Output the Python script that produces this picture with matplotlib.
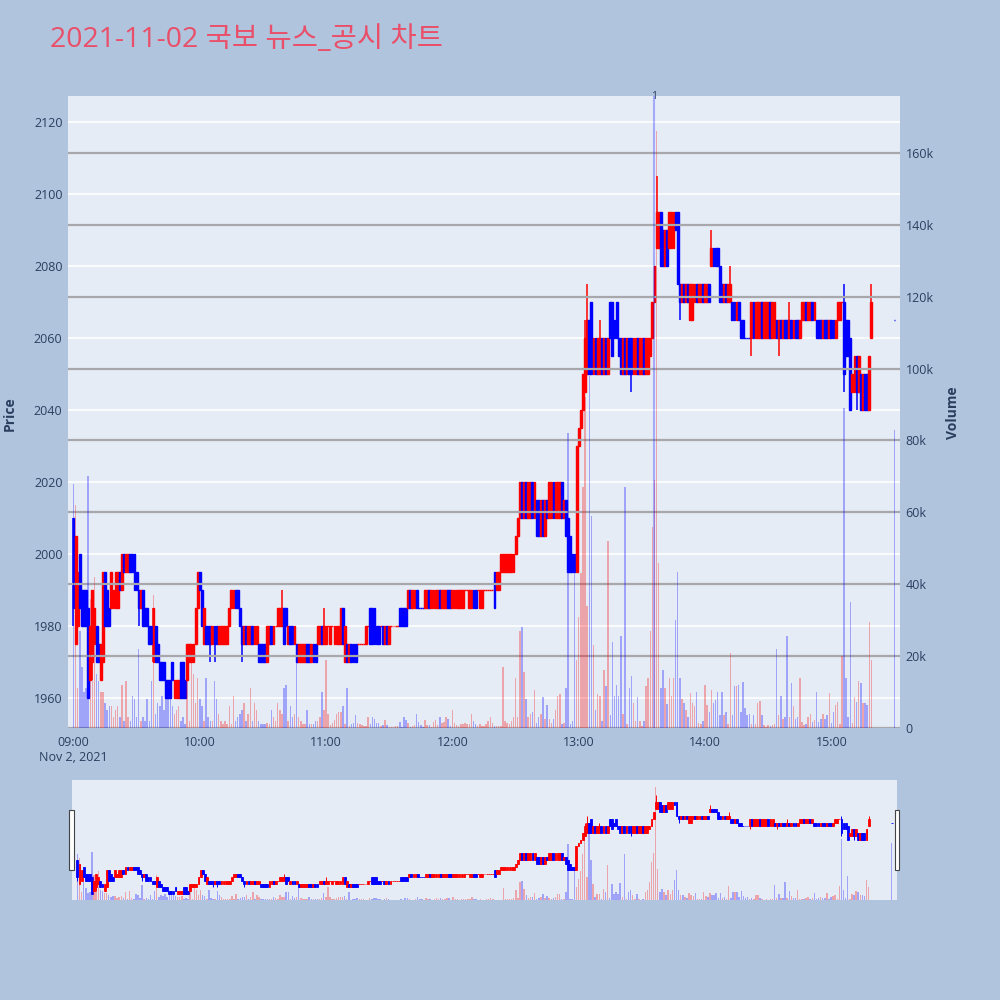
import matplotlib.pyplot as plt
from matplotlib.patches import Rectangle

plt.rcParams['font.family'] = ['Open Sans', 'Noto Sans CJK KR', 'DejaVu Sans']

title = '2021-11-02 국보 뉴스_공시 차트'
tick_minutes = [0, 60, 120, 180, 240, 300, 360]
tick_labels = ['09:00\nNov 2, 2021', '10:00', '11:00', '12:00', '13:00', '14:00', '15:00']
price_ticks = [1960, 1980, 2000, 2020, 2040, 2060, 2080, 2100, 2120]
vol_ticks = [0, 20, 40, 60, 80, 100, 120, 140, 160]

# one candle per minute from 09:00 to 15:19
opens = [
    2010, 1975, 1980, 2000, 1990, 1990, 1990, 1985, 1965, 1970,
    1975, 1980, 1975, 1965, 1970, 1995, 1990, 1985, 1985, 1985,
    1985, 1985, 1995, 1990, 2000, 1995, 1995, 2000, 2000, 2000,
    1995, 1990, 1985, 1990, 1985, 1985, 1980, 1980, 1970, 1980,
    1975, 1970, 1970, 1970, 1965, 1965, 1965, 1970, 1960, 1960,
    1960, 1970, 1970, 1965, 1965, 1970, 1970, 1970, 1975, 1985,
    1995, 1990, 1975, 1980, 1980, 1980, 1975, 1980, 1980, 1975,
    1975, 1975, 1975, 1975, 1980, 1985, 1985, 1990, 1990, 1985,
    1980, 1975, 1980, 1975, 1975, 1980, 1975, 1975, 1975, 1975,
    1975, 1975, 1970, 1975, 1980, 1975, 1980, 1980, 1980, 1980,
    1985, 1985, 1975, 1980, 1980, 1975, 1975, 1970, 1970, 1970,
    1970, 1975, 1975, 1970, 1975, 1975, 1975, 1975, 1980, 1975,
    1975, 1980, 1975, 1980, 1975, 1975, 1975, 1975, 1985, 1970,
    1975, 1970, 1975, 1975, 1975, 1975, 1975, 1975, 1975, 1975,
    1980, 1985, 1985, 1985, 1980, 1980, 1980, 1980, 1975, 1980,
    1975, 1980, 1980, 1980, 1980, 1985, 1985, 1985, 1985, 1985,
    1990, 1985, 1985, 1990, 1985, 1985, 1985, 1985, 1985, 1990,
    1985, 1985, 1985, 1985, 1990, 1985, 1985, 1985, 1990, 1990,
    1985, 1985, 1985, 1985, 1985, 1985, 1990, 1990, 1985, 1985,
    1990, 1990, 1990, 1985, 1985, 1990, 1990, 1990, 1990, 1990,
    1995, 1990, 1990, 1995, 1995, 1995, 1995, 1995, 1995, 1995,
    2000, 2005, 2010, 2020, 2010, 2020, 2010, 2010, 2020, 2010,
    2015, 2015, 2005, 2015, 2005, 2015, 2010, 2010, 2020, 2010,
    2010, 2010, 2020, 2010, 2015, 2010, 2005, 2000, 2000, 1995,
    2030, 2035, 2040, 2045, 2050, 2065, 2070, 2050, 2060, 2050,
    2050, 2060, 2050, 2060, 2050, 2070, 2070, 2065, 2070, 2060,
    2060, 2050, 2060, 2050, 2060, 2060, 2050, 2050, 2060, 2050,
    2050, 2060, 2050, 2050, 2055, 2060, 2070, 2085, 2085, 2095,
    2090, 2080, 2090, 2085, 2085, 2085, 2095, 2095, 2075, 2070,
    2075, 2070, 2075, 2065, 2065, 2070, 2075, 2070, 2070, 2075,
    2070, 2070, 2075, 2080, 2085, 2085, 2085, 2080, 2075, 2070,
    2075, 2070, 2070, 2070, 2070, 2065, 2070, 2065, 2065, 2060,
    2060, 2060, 2060, 2070, 2060, 2060, 2060, 2070, 2060, 2060,
    2060, 2070, 2060, 2060, 2065, 2060, 2065, 2060, 2065, 2065,
    2060, 2065, 2060, 2065, 2065, 2060, 2065, 2065, 2070, 2065,
    2065, 2070, 2065, 2065, 2065, 2065, 2060, 2065, 2065, 2060,
    2065, 2065, 2060, 2065, 2065, 2070, 2070, 2065, 2065, 2060,
    2045, 2045, 2055, 2045, 2050, 2040, 2050, 2050, 2040, 2060,
]
closes = [
    1985, 2005, 1995, 1985, 1980, 1980, 1980, 1960, 1980, 1990,
    1985, 1970, 1970, 1975, 1995, 1980, 1980, 1980, 1995, 1990,
    1995, 1995, 1990, 2000, 1995, 2000, 2000, 1995, 1995, 1990,
    1990, 1985, 1990, 1980, 1980, 1980, 1975, 1975, 1985, 1970,
    1970, 1965, 1965, 1965, 1960, 1960, 1960, 1965, 1965, 1965,
    1965, 1960, 1960, 1960, 1975, 1975, 1975, 1975, 1985, 1995,
    1990, 1980, 1985, 1975, 1975, 1975, 1980, 1975, 1975, 1980,
    1980, 1980, 1980, 1980, 1985, 1990, 1990, 1985, 1985, 1980,
    1975, 1980, 1975, 1980, 1980, 1975, 1980, 1980, 1970, 1970,
    1970, 1970, 1980, 1980, 1975, 1980, 1980, 1985, 1985, 1985,
    1975, 1980, 1980, 1975, 1975, 1980, 1970, 1975, 1975, 1975,
    1975, 1970, 1970, 1975, 1970, 1970, 1980, 1980, 1975, 1980,
    1980, 1980, 1980, 1980, 1980, 1980, 1980, 1985, 1975, 1980,
    1970, 1975, 1970, 1970, 1970, 1975, 1975, 1975, 1975, 1980,
    1980, 1975, 1975, 1975, 1975, 1975, 1980, 1975, 1980, 1975,
    1980, 1980, 1980, 1980, 1980, 1980, 1980, 1980, 1980, 1990,
    1985, 1990, 1990, 1985, 1985, 1985, 1985, 1990, 1990, 1985,
    1990, 1990, 1990, 1990, 1985, 1990, 1990, 1990, 1985, 1985,
    1990, 1990, 1990, 1990, 1990, 1990, 1990, 1990, 1990, 1990,
    1985, 1985, 1990, 1990, 1990, 1990, 1990, 1990, 1990, 1990,
    1985, 1995, 1995, 2000, 2000, 2000, 2000, 2000, 2000, 2000,
    2005, 2010, 2020, 2010, 2020, 2010, 2020, 2020, 2010, 2020,
    2005, 2005, 2015, 2005, 2015, 2010, 2020, 2020, 2010, 2020,
    2020, 2020, 2010, 2015, 2005, 1995, 1995, 1995, 1995, 2030,
    2035, 2040, 2050, 2060, 2065, 2050, 2050, 2060, 2050, 2060,
    2060, 2050, 2060, 2050, 2060, 2060, 2055, 2060, 2060, 2055,
    2050, 2060, 2050, 2060, 2050, 2050, 2060, 2060, 2050, 2060,
    2060, 2050, 2060, 2060, 2060, 2070, 2080, 2095, 2095, 2080,
    2080, 2090, 2080, 2095, 2095, 2095, 2090, 2075, 2070, 2075,
    2070, 2075, 2070, 2075, 2075, 2075, 2070, 2075, 2075, 2070,
    2075, 2075, 2070, 2085, 2080, 2080, 2080, 2070, 2070, 2075,
    2070, 2075, 2075, 2065, 2065, 2070, 2065, 2060, 2060, 2060,
    2060, 2060, 2070, 2060, 2070, 2070, 2070, 2060, 2070, 2070,
    2070, 2060, 2070, 2070, 2060, 2065, 2060, 2065, 2060, 2060,
    2065, 2060, 2065, 2060, 2060, 2065, 2070, 2070, 2065, 2070,
    2070, 2065, 2070, 2060, 2060, 2060, 2065, 2060, 2060, 2065,
    2060, 2060, 2065, 2070, 2070, 2070, 2050, 2055, 2055, 2040,
    2050, 2055, 2045, 2055, 2040, 2050, 2040, 2040, 2055, 2070,
]
wick_high = {99: 1990, 119: 1985, 243: 2065, 244: 2075, 250: 2065, 277: 2105,
             303: 2090, 312: 2080, 340: 2070, 366: 2075, 379: 2075}
wick_low = {0: 1980, 9: 1965, 31: 1980, 65: 1970, 67: 1970, 80: 1970, 265: 2045,
            288: 2065, 322: 2055, 335: 2055, 366: 2045, 372: 2040}

# volume per minute, thousands
volumes = [
    68, 62, 11, 27, 17, 10, 11, 70, 36, 20,
    42, 15, 13, 10, 10, 7, 5, 6, 6, 3,
    5, 6, 3, 12, 2, 13, 3, 2, 9, 8,
    3, 22, 2, 3, 2, 8, 2, 13, 37, 4,
    7, 6, 9, 5, 12, 11, 10, 6, 4, 5,
    6, 2, 3, 1, 15, 2, 19, 15, 7, 14,
    8, 6, 2, 14, 3, 2, 2, 13, 8, 4,
    2, 1, 2, 1, 6, 1, 9, 2, 3, 4,
    5, 7, 2, 4, 11, 2, 7, 5, 2, 1,
    1, 1, 1.5, 1, 5, 3, 2, 7, 5, 4,
    11, 12, 2, 6, 3, 4, 19, 3, 2, 1,
    1, 5, 1, 1, 1, 2, 2, 3, 10, 5,
    19, 4, 0.8, 1.3, 2.2, 4, 4.5, 4.5, 6, 1,
    11, 0.5, 1, 1.3, 3.6, 1.3, 1, 0.8, 0.5, 0.5,
    3, 1, 3, 2.6, 1.3, 1.3, 0.5, 0.8, 2.2, 0.8,
    0.3, 0.3, 0.3, 0.5, 0.5, 1.8, 0.3, 3, 2.2, 1.3,
    0.3, 0.5, 0.8, 4, 1.8, 0.8, 0.3, 2.2, 0.8, 0.8,
    0.3, 1.8, 2.2, 0.8, 3, 1.3, 1.8, 3, 2.6, 0.5,
    5, 1.3, 0.8, 0.5, 1, 1, 1.5, 1, 1, 4,
    2, 1, 0.5, 1, 0.5, 0.5, 1, 2, 3, 1.5,
    0.5, 0.5, 0.5, 0.5, 17, 2, 1.5, 1, 2, 3,
    14, 3, 27, 28, 15.7, 8, 3, 4, 4.5, 10.6,
    1.5, 3, 4, 8.7, 2.5, 6.4, 2.5, 1.5, 2.5, 5,
    9, 9.5, 1, 1.5, 11, 82, 1, 2, 47, 19,
    31, 43, 67, 92, 34, 98, 59, 23, 5, 9.5,
    9, 2, 16, 11.7, 52, 3.6, 24, 9, 12, 9,
    25.6, 4, 67, 1, 11, 14.5, 7, 2, 8.5, 2,
    0.5, 2, 11.7, 14, 27, 56, 69, 166, 46, 11,
    16, 11, 6.6, 14, 9, 14, 30, 43.5, 14, 8,
    7, 5, 3, 9.7, 7, 6, 10, 1.5, 1, 2,
    12, 6.4, 4.5, 10.6, 7, 7.8, 10, 3.6, 10, 3.6,
    4.5, 1, 21, 3.6, 11.6, 11.6, 12, 4.5, 12.7, 5.5,
    3.6, 4, 1.2, 3.6, 1.2, 7, 7.5, 3.6, 0.8, 0.3,
    0.8, 0.5, 0.8, 1, 22, 3.6, 9, 2.6, 3, 25.7,
    3, 12.5, 6, 2.6, 3, 14, 1.7, 0.8, 1.2, 3,
    4, 1.7, 2.2, 10, 1.7, 2.6, 4, 2.6, 3.6, 9.6,
    1.3, 4.5, 6.4, 7.3, 1, 20, 89, 14, 3, 35,
    1.3, 8.7, 7.3, 13, 12.4, 7, 7, 6.4, 29.6, 19,
]

# closing auction at 15:30
auction_minute = 390
auction_price = 2065
auction_volume = 83

news_minute = 275.7
news_label = '1'

# build candles
minutes = list(range(len(closes))) + [auction_minute]
all_open = opens + [auction_price]
all_close = closes + [auction_price]
all_vol = [v * 1000 for v in volumes + [auction_volume]]
highs, lows, colors = [], [], []
last_dir = 'red'
prev_close = all_open[0]
for i, (o, c) in enumerate(zip(all_open, all_close)):
    highs.append(max(o, c, wick_high.get(i, o)))
    lows.append(min(o, c, wick_low.get(i, o)))
    if c > o:
        last_dir = 'red'
    elif c < o:
        last_dir = 'blue'
    elif c > prev_close:
        last_dir = 'red'
    elif c < prev_close:
        last_dir = 'blue'
    colors.append(last_dir)
    prev_close = c

col = {'red': '#ff0000', 'blue': '#0000ff'}
vcol = {'red': (1, 0, 0, 0.3), 'blue': (0, 0, 1, 0.3)}

price_lim = (1951.7, 2127.2)
vol_lim = (0, 175800)
x_lim = (-2.6, 392.6)


def draw(ax, axv, body_w, lw, wick_lw, vol_w):
    bottoms = [min(o, c) for o, c in zip(all_open, all_close)]
    heights = [abs(c - o) for o, c in zip(all_open, all_close)]
    cc = [col[c] for c in colors]
    ax.vlines(minutes, lows, highs, colors=cc, linewidth=wick_lw, zorder=3)
    ax.bar(minutes, heights, bottom=bottoms, width=body_w, color=cc,
           edgecolor=cc, linewidth=lw, zorder=3)
    axv.bar(minutes, all_vol, width=vol_w, color=[vcol[c] for c in colors], linewidth=0)
    ax.set_xlim(*x_lim)
    ax.set_ylim(*price_lim)
    axv.set_ylim(*vol_lim)
    for a in (ax, axv):
        for s in a.spines.values():
            s.set_visible(False)


fig = plt.figure(figsize=(10, 10), dpi=100)
fig.patch.set_facecolor('#b0c4de')

ax = fig.add_axes([0.068, 0.272, 0.832, 0.632])
ax.set_facecolor('#e5ecf6')
axv = ax.twinx()
draw(ax, axv, 0.9, 1.0, 1.1, 0.7)

ax.set_yticks(price_ticks)
ax.set_yticklabels([str(p) for p in price_ticks])
ax.set_xticks(tick_minutes)
ax.set_xticklabels(tick_labels)
ax.grid(axis='y', color='white', linewidth=1.2)
ax.set_axisbelow(True)
axv.set_yticks([v * 1000 for v in vol_ticks])
axv.set_yticklabels(['0'] + [f'{v}k' for v in vol_ticks[1:]])
axv.grid(axis='y', color='#a8a8ac', linewidth=1.6)
axv.set_axisbelow(True)
for a in (ax, axv):
    a.tick_params(length=0, labelsize=9, colors='#2a3f5f', pad=4)
ax.tick_params(axis='x', pad=6)

# news marker
axv.axvline(news_minute, color=(0, 0, 1, 0.28), linewidth=1.5)
ax.text(news_minute, price_lim[1], news_label, ha='center', va='center',
        fontsize=7.5, color='#2a3f5f')

fig.text(0.010, 0.586, 'Price', rotation=90, ha='center', va='center',
         fontsize=10, fontweight='bold', color='#2a3f5f')
fig.text(0.953, 0.587, 'Volume', rotation=90, ha='center', va='center',
         fontsize=10, fontweight='bold', color='#2a3f5f')
fig.text(0.05, 0.960, title, ha='left', va='center', fontsize=20.5, color='#ea4f69')

# range slider
axs = fig.add_axes([0.072, 0.100, 0.825, 0.120])
axs.set_facecolor('#e5ecf6')
axsv = axs.twinx()
draw(axs, axsv, 0.9, 0.6, 0.7, 0.7)
for a in (axs, axsv):
    a.set_xticks([])
    a.set_yticks([])

for hx in (0.069, 0.8945):
    fig.patches.append(Rectangle((hx, 0.130), 0.0045, 0.060, transform=fig.transFigure,
                                 facecolor='white', edgecolor='#444444', linewidth=0.8))

fig.savefig('out.png', dpi=100, facecolor=fig.get_facecolor())
